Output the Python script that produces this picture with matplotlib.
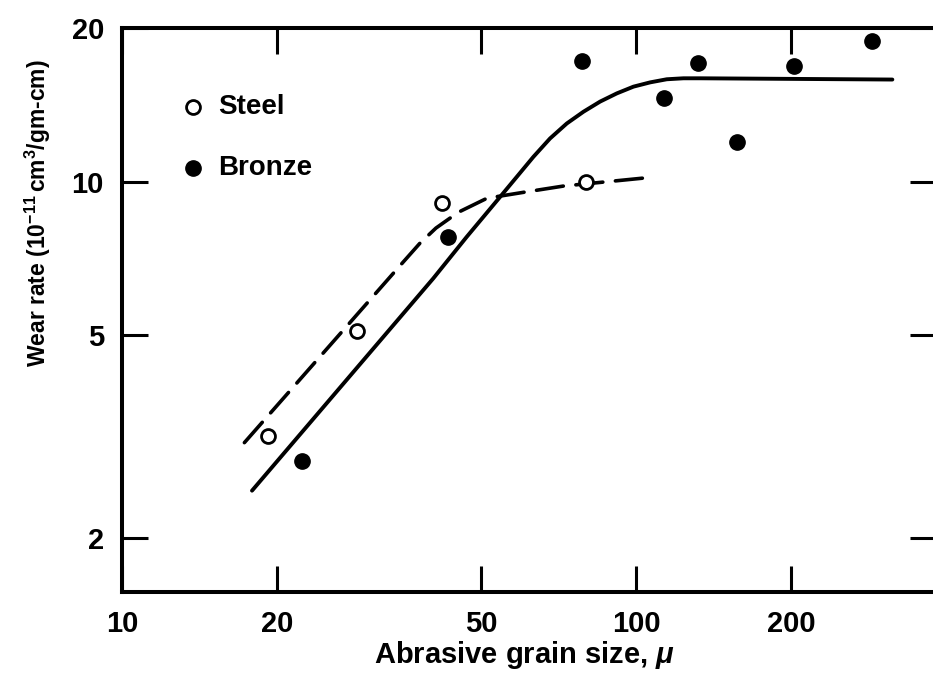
import matplotlib
matplotlib.use("Agg")
import matplotlib.pyplot as plt
from matplotlib.ticker import FixedLocator, FixedFormatter, NullLocator

plt.rcParams['font.family'] = ['Liberation Sans', 'DejaVu Sans']
plt.rcParams['font.weight'] = 'bold'
plt.rcParams['mathtext.fontset'] = 'custom'
plt.rcParams['mathtext.rm'] = 'Liberation Sans:bold'
plt.rcParams['mathtext.it'] = 'Liberation Sans:bold:italic'
plt.rcParams['mathtext.bf'] = 'Liberation Sans:bold'

# measured points
steel_x = [19.2, 28.7, 41.9, 79.9]
steel_y = [3.17, 5.09, 9.08, 9.98]
bronze_x = [22.4, 43.1, 78.5, 113.4, 132, 157, 203, 287]
bronze_y = [2.83, 7.78, 17.2, 14.6, 17.1, 11.95, 16.85, 18.9]

# fitted curves as drawn in the figure
bronze_curve_x = [17.9, 40.3, 46.8, 54.4, 58.6, 63.1, 68.0, 73.3, 79.0, 85.1,
                  91.7, 98.8, 106.5, 114.7, 123.6, 133.2, 315]
bronze_curve_y = [2.48, 6.46, 7.79, 9.34, 10.22, 11.18, 12.15, 13.0, 13.71, 14.35,
                  14.89, 15.35, 15.65, 15.87, 15.94, 15.94, 15.85]
steel_curve_x = [17.3, 35.2, 38.0, 40.8, 45.1, 51.3, 60.8, 72.1, 103.2]
steel_curve_y = [3.08, 6.95, 7.58, 8.11, 8.71, 9.28, 9.54, 9.80, 10.16]

x_ticks = [10, 20, 50, 100, 200]
y_ticks = [2, 5, 10, 20]

fig = plt.figure(figsize=(9.33, 6.79), dpi=100)
ax = fig.add_axes([122 / 933, 1 - 592 / 679, 814 / 933, 564 / 679])
ax.set_xscale('log')
ax.set_yscale('log')
ax.set_xlim(10, 383)
ax.set_ylim(1.57, 20)

ax.plot(bronze_curve_x, bronze_curve_y, color='black', lw=2.8,
        solid_capstyle='round', solid_joinstyle='round')
ax.plot(steel_curve_x, steel_curve_y, color='black', lw=2.6,
        dashes=(7.5, 3.5), dash_capstyle='round')
ax.plot(steel_x, steel_y, 'o', ms=10, mfc='white', mec='black', mew=2.0, zorder=5)
ax.plot(bronze_x, bronze_y, 'o', ms=11, color='black', zorder=5)

# legend
ax.plot([0.0872], [0.860], 'o', ms=10, mfc='white', mec='black', mew=2.0,
        transform=ax.transAxes, clip_on=False)
ax.plot([0.0872], [0.752], 'o', ms=11, color='black',
        transform=ax.transAxes, clip_on=False)
ax.text(0.118, 0.860, 'Steel', transform=ax.transAxes, fontsize=20,
        va='center', ha='left')
ax.text(0.118, 0.752, 'Bronze', transform=ax.transAxes, fontsize=20,
        va='center', ha='left')

ax.xaxis.set_major_locator(FixedLocator(x_ticks))
ax.xaxis.set_major_formatter(FixedFormatter([str(t) for t in x_ticks]))
ax.yaxis.set_major_locator(FixedLocator(y_ticks))
ax.yaxis.set_major_formatter(FixedFormatter([str(t) for t in y_ticks]))
ax.xaxis.set_minor_locator(NullLocator())
ax.yaxis.set_minor_locator(NullLocator())
ax.tick_params(which='major', direction='in', length=19, width=2.2,
               top=True, right=True, labelsize=21, pad=13)

for s in ax.spines.values():
    s.set_linewidth(2.9)

fig.text(38 / 933, 1 - 213 / 679,
         r'Wear rate (10$^{-11}\,$cm$^{3}$/gm-cm)',
         rotation=90, ha='center', va='center', fontsize=16.5)
fig.text(524 / 933, 1 - 663 / 679, r'Abrasive grain size, $\mu$',
         ha='center', va='baseline', fontsize=21)

fig.savefig('out.png', dpi=100)
